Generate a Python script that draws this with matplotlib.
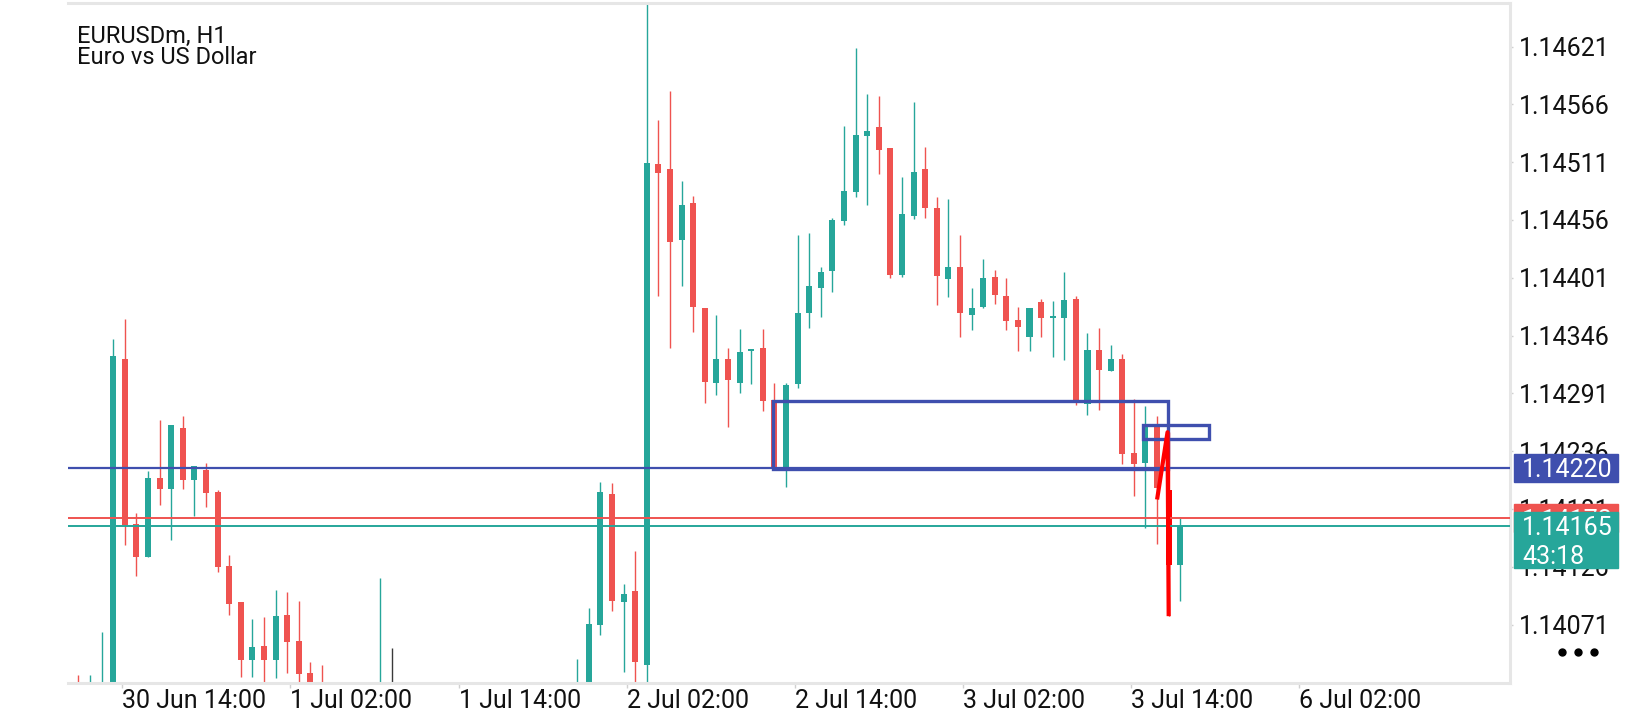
import matplotlib
matplotlib.use('Agg')
import matplotlib.pyplot as plt
import matplotlib.transforms as mtransforms
from matplotlib.lines import Line2D
from matplotlib.patches import Rectangle
import numpy as np

plt.rcParams['font.family'] = ['Roboto', 'DejaVu Sans']

# EURUSDm H1 bars, index 0 = first tall green bar on 30 Jun
first_bar = -3
opens = [1.14010, 1.13975, 1.13970, 1.13995, 1.14324, 1.14167, 1.14135, 1.14210, 1.14200, 1.14258,
         1.14209, 1.14218, 1.14197, 1.14127, 1.14092, 1.14037, 1.14051, 1.14037, 1.14080, 1.14055,
         1.14025, 1.13998, 1.13985, 1.13990, 1.13982, 1.13996, 1.13988, 1.14002, 1.14002, 1.13992,
         1.13998, 1.13990, 1.13986, 1.13994, 1.13988, 1.13996, 1.13990, 1.13984, 1.13992, 1.13986,
         1.13980, 1.13990, 1.13996, 1.13990, 1.14004, 1.14071, 1.14195, 1.14092, 1.14103, 1.14033,
         1.14509, 1.14504, 1.14437, 1.14472, 1.14372, 1.14301, 1.14324, 1.14301, 1.14331, 1.14334,
         1.14285, 1.14220, 1.14300, 1.14367, 1.14391, 1.14407, 1.14455, 1.14483, 1.14536, 1.14544,
         1.14524, 1.14404, 1.14460, 1.14504, 1.14467, 1.14400, 1.14411, 1.14366, 1.14373, 1.14402,
         1.14384, 1.14361, 1.14345, 1.14378, 1.14363, 1.14363, 1.14381, 1.14281, 1.14332, 1.14312,
         1.14324, 1.14234, 1.14225, 1.14259, 1.14199, 1.14128]
highs = [1.14023, 1.14023, 1.14064, 1.14343, 1.14362, 1.14177, 1.14217, 1.14266, 1.14261, 1.14269,
         1.14222, 1.14225, 1.14199, 1.14137, 1.14092, 1.14076, 1.14078, 1.14104, 1.14102, 1.14093,
         1.14035, 1.14033, 1.14005, 1.14000, 1.14008, 1.14010, 1.14115, 1.14049, 1.14010, 1.14006,
         1.14008, 1.14004, 1.14000, 1.14008, 1.14002, 1.14010, 1.14004, 1.14000, 1.14006, 1.14002,
         1.13998, 1.14006, 1.14010, 1.14038, 1.14087, 1.14207, 1.14206, 1.14110, 1.14141, 1.14661,
         1.14551, 1.14579, 1.14493, 1.14479, 1.14372, 1.14366, 1.14334, 1.14352, 1.14333, 1.14352,
         1.14301, 1.14301, 1.14442, 1.14444, 1.14411, 1.14458, 1.14545, 1.14620, 1.14576, 1.14574,
         1.14524, 1.14497, 1.14568, 1.14525, 1.14478, 1.14476, 1.14442, 1.14391, 1.14419, 1.14408,
         1.14401, 1.14373, 1.14372, 1.14381, 1.14379, 1.14406, 1.14384, 1.14348, 1.14353, 1.14337,
         1.14328, 1.14286, 1.14279, 1.14269, 1.14254, 1.14172]
lows = [1.13970, 1.13960, 1.13955, 1.13985, 1.14147, 1.14117, 1.14135, 1.14185, 1.14151, 1.14200,
        1.14174, 1.14183, 1.14121, 1.14080, 1.14021, 1.14021, 1.14010, 1.14020, 1.14025, 1.14005,
        1.13980, 1.13975, 1.13970, 1.13972, 1.13975, 1.13980, 1.13980, 1.13990, 1.13985, 1.13978,
        1.13982, 1.13976, 1.13970, 1.13980, 1.13974, 1.13984, 1.13976, 1.13970, 1.13978, 1.13972,
        1.13966, 1.13976, 1.13982, 1.13980, 1.13995, 1.14061, 1.14084, 1.14026, 1.14005, 1.14005,
        1.14384, 1.14334, 1.14393, 1.14349, 1.14282, 1.14289, 1.14259, 1.14291, 1.14300, 1.14274,
        1.14219, 1.14202, 1.14296, 1.14353, 1.14364, 1.14387, 1.14451, 1.14478, 1.14470, 1.14500,
        1.14401, 1.14402, 1.14457, 1.14458, 1.14375, 1.14383, 1.14345, 1.14351, 1.14372, 1.14376,
        1.14351, 1.14331, 1.14331, 1.14345, 1.14326, 1.14323, 1.14280, 1.14270, 1.14275, 1.14312,
        1.14224, 1.14193, 1.14163, 1.14148, 1.14079, 1.14093]
closes = [1.13985, 1.14000, 1.14010, 1.14327, 1.14166, 1.14135, 1.14210, 1.14200, 1.14261, 1.14209,
          1.14222, 1.14196, 1.14126, 1.14091, 1.14037, 1.14050, 1.14037, 1.14079, 1.14054, 1.14024,
          1.13995, 1.13985, 1.13990, 1.13982, 1.13996, 1.13988, 1.14002, 1.14002, 1.13992, 1.13998,
          1.13990, 1.13986, 1.13994, 1.13988, 1.13996, 1.13990, 1.13984, 1.13992, 1.13986, 1.13980,
          1.13990, 1.13996, 1.13990, 1.14004, 1.14072, 1.14197, 1.14093, 1.14100, 1.14035, 1.14510,
          1.14501, 1.14435, 1.14470, 1.14373, 1.14302, 1.14324, 1.14304, 1.14330, 1.14333, 1.14284,
          1.14221, 1.14299, 1.14367, 1.14393, 1.14406, 1.14456, 1.14484, 1.14537, 1.14541, 1.14523,
          1.14404, 1.14462, 1.14502, 1.14467, 1.14403, 1.14411, 1.14367, 1.14372, 1.14401, 1.14385,
          1.14360, 1.14354, 1.14372, 1.14363, 1.14365, 1.14380, 1.14285, 1.14332, 1.14313, 1.14324,
          1.14233, 1.14224, 1.14261, 1.14201, 1.14128, 1.14165]
highlight_bar = 91

time_ticks = [0.79, 15.27, 29.77, 44.26, 58.76, 73.25, 87.75, 102.24]
time_labels = ['30 Jun 14:00', '1 Jul 02:00', '1 Jul 14:00', '2 Jul 02:00',
               '2 Jul 14:00', '3 Jul 02:00', '3 Jul 14:00', '6 Jul 02:00']
price_ticks = [1.14621, 1.14566, 1.14511, 1.14456, 1.14401, 1.14346,
               1.14291, 1.14236, 1.14181, 1.14126, 1.14071]

level_price = 1.14220
ask_price = 1.14172
bid_price = 1.14165
bar_timer = '43:18'

# drawn objects: (bar from, bar to, price low, price high)
box_big = (56.9, 90.9, 1.14219, 1.14284)
box_small = (88.8, 94.5, 1.14248, 1.14261)
trend_x = [90.0, 90.9, 91.0]
trend_y = [1.14190, 1.14254, 1.14079]

teal = '#26a69a'
red = '#ef5350'
blue = '#3f4fae'
frame = '#e6e6e6'

W, H = 1640, 720
fig = plt.figure(figsize=(W / 100, H / 100), dpi=100)
fig.patch.set_facecolor('white')
ax = fig.add_axes([68 / W, (H - 683) / H, (1510 - 68) / W, (683 - 2.5) / H])
px = mtransforms.Affine2D().scale(1 / W, -1 / H).translate(0, 1) + fig.transFigure

x = np.arange(first_bar, first_bar + len(opens))
o = np.array(opens)
hi = np.array(highs)
lo = np.array(lows)
c = np.array(closes)
colors = np.where(c > o, teal, red).astype(object)
colors[c == o] = '#3a3a3a'
colors[x == highlight_bar] = '#ff0000'

ax.vlines(x, lo, hi, colors=list(colors), lw=1.0, zorder=2)
ax.bar(x, np.maximum(np.abs(c - o), 0.00002), bottom=np.minimum(o, c), width=0.52,
       color=list(colors), zorder=2)

ax.axhline(level_price, color=blue, lw=1.6, zorder=3)
ax.axhline(ask_price, color=red, lw=1.4, zorder=3)
ax.axhline(bid_price, color=teal, lw=1.4, zorder=3)

for b in (box_big, box_small):
    ax.add_patch(Rectangle((b[0], b[2]), b[1] - b[0], b[3] - b[2], fill=False,
                           ec=blue, lw=2.4, zorder=4))
ax.plot(trend_x, trend_y, color='#ff0000', lw=3.0, zorder=5, solid_capstyle='butt')

ax.set_xlim(-3.905, 120.43)
ax.set_ylim(1.140154, 1.146629)

for s in ('top', 'right', 'bottom'):
    ax.spines[s].set_color(frame)
    ax.spines[s].set_linewidth(2.2)
ax.spines['left'].set_visible(False)

ax.yaxis.tick_right()
ax.set_yticks(price_ticks)
ax.set_yticklabels([f'{v:.5f}' for v in price_ticks])
ax.tick_params(axis='y', length=2.5, width=1, color='#d0d0d0', pad=3.6,
               labelsize=18, labelcolor='#111111')
ax.set_xticks(time_ticks)
ax.set_xticklabels(time_labels, ha='left')
ax.tick_params(axis='x', length=3.5, width=1, color='#d0d0d0', pad=0.5,
               labelsize=18, labelcolor='#111111')

# price tags on the scale
fig.canvas.draw()


def y_px(price):
    return H - ax.transData.transform((0, price))[1]


yl = y_px(level_price)
fig.add_artist(Rectangle((1514, yl - 14), 104, 28, transform=px, color=blue, zorder=10))
fig.text(1522, yl, f'{level_price:.5f}', transform=px, color='white', fontsize=18,
         va='center_baseline', ha='left', zorder=11)
ya = y_px(ask_price)
fig.add_artist(Rectangle((1514, ya - 14), 104, 28, transform=px, color=red, zorder=10))
fig.text(1522, ya, f'{ask_price:.5f}', transform=px, color='white', fontsize=18,
         va='center_baseline', ha='left', zorder=11)
yb = y_px(bid_price)
fig.add_artist(Rectangle((1514, yb - 14), 104, 56, transform=px, color=teal, zorder=12))
fig.text(1522, yb, f'{bid_price:.5f}', transform=px, color='white', fontsize=18,
         va='center_baseline', ha='left', zorder=13)
fig.text(1522, yb + 29, bar_timer, transform=px, color='white', fontsize=18,
         va='center_baseline', ha='left', zorder=13)

fig.text(77, 42.7, 'EURUSDm, H1', transform=px, fontsize=17, color='#111111', va='baseline')
fig.text(77, 64.5, 'Euro vs US Dollar', transform=px, fontsize=17, color='#111111', va='baseline')

fig.add_artist(Line2D([1562, 1578, 1594], [652, 652, 652], transform=px, ls='none',
                      marker='o', ms=5, color='black'))

fig.savefig('out.png', dpi=100)
